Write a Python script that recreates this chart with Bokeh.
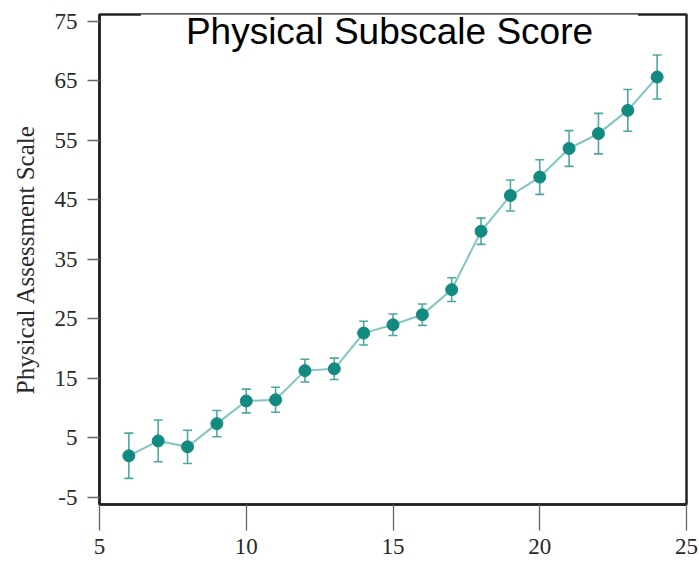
from bokeh.plotting import figure
from bokeh.models import Range1d, FixedTicker, Whisker, TeeHead, ColumnDataSource, Label, CustomJSTickFormatter
from bokeh.embed import file_html
from bokeh.resources import INLINE

weeks = [6, 7, 8, 9, 10, 11, 12, 13, 14, 15, 16, 17, 18, 19, 20, 21, 22, 23, 24]
score = [2.0, 4.5, 3.5, 7.4, 11.2, 11.4, 16.3, 16.6, 22.6, 24.0, 25.7, 29.9, 39.7, 45.7, 48.8, 53.6, 56.1, 60.0, 65.6]
err = [3.8, 3.5, 2.8, 2.2, 2.0, 2.1, 1.9, 1.8, 2.0, 1.8, 1.8, 2.0, 2.2, 2.6, 2.9, 3.0, 3.4, 3.5, 3.7]
y_ticks = [-5, 5, 15, 25, 35, 45, 55, 65, 75]
x_ticks = [5, 10, 15, 20, 25]
title_text = "Physical Subscale Score"
y_label = "Physical Assessment Scale"

src = ColumnDataSource(dict(
    x=weeks, y=score,
    lo=[s - e for s, e in zip(score, err)],
    hi=[s + e for s, e in zip(score, err)],
))

p = figure(width=699, height=564, output_backend="svg", toolbar_location=None,
           x_range=Range1d(5, 25), y_range=Range1d(-6.18, 76.1),
           min_border_left=99, min_border_right=13, min_border_top=14, min_border_bottom=60)
p.background_fill_color = "white"
p.border_fill_color = "white"
p.grid.visible = False
p.outline_line_color = "#222222"
p.outline_line_width = 2.5

fmt = CustomJSTickFormatter(code="return String(tick);")
for ax in (p.xaxis[0], p.yaxis[0]):
    ax.axis_line_color = "#222222"
    ax.axis_line_width = 2.5
    ax.major_tick_line_color = "#666666"
    ax.major_tick_line_width = 1.3
    ax.major_tick_in = 0
    ax.minor_tick_line_color = None
    ax.major_label_text_font = "Liberation Serif"
    ax.major_label_text_font_size = "23px"
    ax.major_label_text_color = "#2a2a2a"
    ax.formatter = fmt

p.xaxis.ticker = FixedTicker(ticks=x_ticks)
p.yaxis.ticker = FixedTicker(ticks=y_ticks)
p.xaxis.major_tick_out = 26
p.yaxis.major_tick_out = 12
p.xaxis.major_label_standoff = 8
p.yaxis.major_label_standoff = 10

p.yaxis.axis_label = y_label
p.yaxis.axis_label_text_font = "Liberation Serif"
p.yaxis.axis_label_text_font_style = "normal"
p.yaxis.axis_label_text_font_size = "25px"
p.yaxis.axis_label_text_color = "#2a2a2a"
p.yaxis.axis_label_standoff = 13

p.line("x", "y", source=src, line_color="#80c6c0", line_width=2)
wh = Whisker(base="x", lower="lo", upper="hi", source=src,
             line_color="#4ea8a1", line_width=1.6,
             lower_head=TeeHead(size=9, line_color="#4ea8a1", line_width=1.6),
             upper_head=TeeHead(size=9, line_color="#4ea8a1", line_width=1.6))
p.add_layout(wh)
p.scatter("x", "y", source=src, size=12, fill_color="#138a80", line_color="#138a80")

title = Label(x=14.88, y=73.25, text=title_text, text_align="center", text_baseline="alphabetic",
              text_font="Liberation Sans", text_font_size="37px", text_color="black",
              background_fill_color="white", padding=(45, 14))
p.add_layout(title)

open("out.html", "w").write(file_html(p, INLINE))
